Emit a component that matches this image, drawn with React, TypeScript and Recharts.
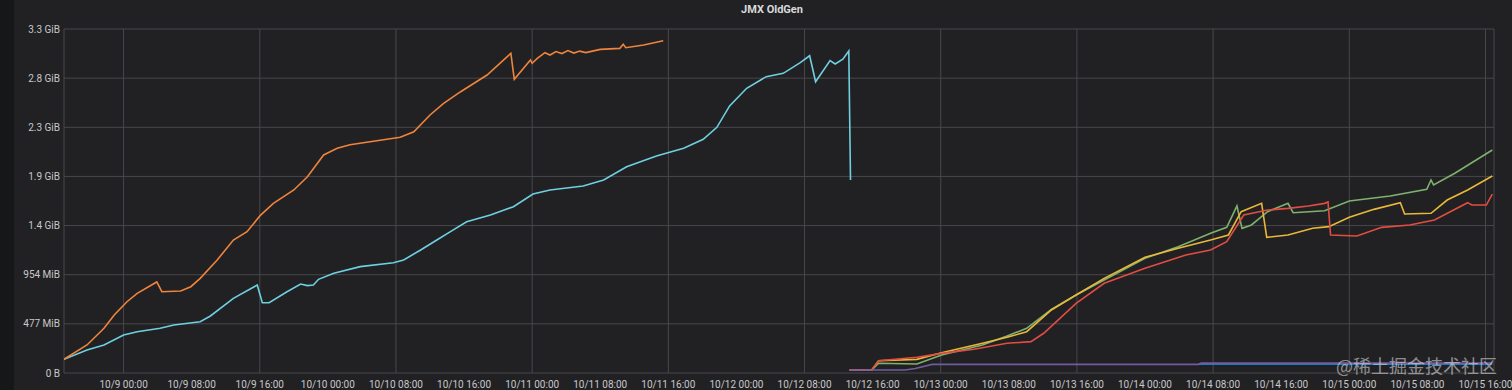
import { LineChart, Line, XAxis, YAxis, CartesianGrid } from "recharts";

// [hours since 10/9 00:00, value in GB (1e9 bytes)]
type Pt = [number, number];

const hourTicks = [0, 8, 16, 24, 32, 40, 48, 56, 64, 72, 80, 88, 96, 104, 112, 120, 128, 136, 144, 152, 160];
const byteTicks = [0, 0.5, 1, 1.5, 2, 2.5, 3, 3.5];

const orange: Pt[] = [
  [-7, 0.14], [-4.3, 0.285], [-2.3, 0.455], [-1.1, 0.59], [0.4, 0.725], [1.6, 0.81], [3.9, 0.926],
  [4.5, 0.827], [6.7, 0.834], [7.9, 0.878], [9, 0.963], [11, 1.15], [12.9, 1.353], [14.5, 1.438],
  [16.1, 1.607], [17.6, 1.726], [20, 1.862], [21.6, 1.997], [23.5, 2.218], [25.1, 2.286], [26.6, 2.323],
  [32.5, 2.398], [34.1, 2.455], [36, 2.625], [37.6, 2.744], [39.6, 2.862], [42.7, 3.032], [45.5, 3.253],
  [45.9, 2.988], [47.8, 3.185], [48, 3.151], [48.6, 3.2], [49.5, 3.259], [50.1, 3.235], [50.8, 3.27],
  [51.5, 3.25], [52.2, 3.28], [52.9, 3.255], [53.6, 3.275], [54.3, 3.26], [56, 3.293], [58.3, 3.303],
  [58.7, 3.344], [59, 3.31], [61.1, 3.337], [63.4, 3.381],
];

const cyan: Pt[] = [
  [-7, 0.14], [-4.3, 0.234], [-2.3, 0.285], [0, 0.387], [1.6, 0.42], [4.3, 0.455], [5.9, 0.488],
  [9, 0.522], [10.2, 0.58], [12.9, 0.76], [15.7, 0.895], [16.3, 0.715], [17.1, 0.715], [19.2, 0.827],
  [20.8, 0.905], [21.6, 0.889], [22.3, 0.895], [22.9, 0.953], [24.7, 1.014], [27.8, 1.082], [31.7, 1.122],
  [32.9, 1.15], [34.9, 1.251], [36.8, 1.353], [38.4, 1.438], [40.3, 1.539], [43.1, 1.607], [45.8, 1.692],
  [48.1, 1.821], [50.1, 1.862], [54, 1.903], [56.4, 1.964], [59.1, 2.099], [62.6, 2.208], [65.8, 2.286],
  [68.1, 2.378], [69.7, 2.5], [71.2, 2.717], [73.2, 2.897], [75.5, 3.015], [77.5, 3.049], [79.5, 3.157],
  [80.6, 3.228], [81.3, 2.964], [83, 3.178], [83.6, 3.144], [84.5, 3.192], [85.2, 3.276], [85.4, 1.964],
];

const green: Pt[] = [
  [85.3, 0.03], [87.9, 0.03], [88.7, 0.099], [93.2, 0.092], [96.1, 0.183], [100.9, 0.285], [103.8, 0.376],
  [106.1, 0.455], [109, 0.648], [111.9, 0.794], [115.2, 0.946], [120, 1.167], [123.9, 1.285], [127.7, 1.421],
  [129.6, 1.482], [130.8, 1.699], [131.4, 1.472], [132.5, 1.506], [134.4, 1.641], [136.8, 1.726],
  [137.4, 1.631], [141.1, 1.651], [144, 1.75], [148.8, 1.801], [153.1, 1.869], [153.6, 1.964],
  [153.9, 1.913], [156.4, 2.032], [160.8, 2.269],
];

const yellow: Pt[] = [
  [85.3, 0.03], [87.9, 0.03], [88.7, 0.125], [93.2, 0.139], [96.1, 0.207], [100.9, 0.302], [103.8, 0.363],
  [106.1, 0.42], [109, 0.641], [111.9, 0.794], [115.2, 0.963], [120, 1.177], [123.9, 1.269], [127.7, 1.353],
  [129.8, 1.404], [131.3, 1.641], [133.7, 1.726], [134.3, 1.38], [136.8, 1.404], [139.7, 1.472],
  [141.6, 1.489], [144, 1.584], [146.9, 1.665], [150, 1.733], [150.5, 1.618], [153.6, 1.625],
  [155.5, 1.76], [157.9, 1.862], [160.8, 2.004],
];

const red: Pt[] = [
  [85.3, 0.03], [87.9, 0.03], [88.7, 0.125], [93.2, 0.16], [96.1, 0.2], [99.9, 0.241], [103.8, 0.302],
  [106.6, 0.319], [108.1, 0.404], [111.9, 0.709], [115.2, 0.913], [120, 1.065], [124.8, 1.201],
  [127.7, 1.251], [129.6, 1.336], [131.6, 1.607], [134.4, 1.658], [136.8, 1.675], [139.2, 1.699],
  [141.1, 1.726], [141.5, 1.74], [141.8, 1.404], [144.9, 1.394], [147.8, 1.482], [151.1, 1.506],
  [154, 1.557], [157.9, 1.733], [158.4, 1.709], [160.1, 1.709], [160.8, 1.821],
];

const blue: Pt[] = [[126.3, 0.09], [160.8, 0.09]];

const purple: Pt[] = [
  [85.3, 0.03], [91.8, 0.03], [93, 0.045], [95, 0.088], [126.3, 0.088], [126.6, 0.1], [160.8, 0.1],
];

const series = [
  { name: "green", pts: green, color: "#7EB26D" },
  { name: "yellow", pts: yellow, color: "#EAB839" },
  { name: "cyan", pts: cyan, color: "#6ED0E0" },
  { name: "orange", pts: orange, color: "#EF843C" },
  { name: "red", pts: red, color: "#E24D42" },
  { name: "blue", pts: blue, color: "#1F78C1" },
  { name: "purple", pts: purple, color: "#705DA0" },
];

const toRows = (pts: Pt[]) => pts.map(([h, v]) => ({ h, v }));

function fmtBytes(v: number) {
  if (v === 0) return "0 B";
  const bytes = v * 1e9;
  const mib = bytes / 1048576;
  if (mib < 1024) return `${Math.round(mib)} MiB`;
  return `${(mib / 1024).toFixed(1)} GiB`;
}

function fmtHour(h: number) {
  const day = 9 + Math.floor(h / 24);
  const hr = String(h % 24).padStart(2, "0");
  return `10/${day} ${hr}:00`;
}

const font = "Roboto, 'Noto Sans', Arial, sans-serif";

export default function App() {
  return (
    <div style={{ position: "fixed", top: 0, left: 0, width: 1512, height: 390, background: "#161719", overflow: "hidden" }}>
      <div style={{ position: "absolute", left: 14, top: 0, width: 1498, height: 390, background: "#212124" }} />
      <div
        style={{
          position: "absolute", top: 3, left: 672, width: 200, textAlign: "center",
          fontFamily: font, fontSize: 11, fontWeight: 700, color: "#d8d9da",
        }}
      >
        JMX OldGen
      </div>
      <div style={{ position: "absolute", top: 0, left: 0 }}>
        <LineChart width={1512} height={390} margin={{ top: 29, right: 18, left: 0, bottom: 0 }}>
          <CartesianGrid stroke="#48484c" strokeWidth={1} />
          <XAxis
            dataKey="h"
            type="number"
            domain={[-7, 161]}
            ticks={hourTicks}
            tickFormatter={fmtHour}
            allowDataOverflow
            axisLine={false}
            tickLine={false}
            height={17}
            tick={{ fontSize: 10, fill: "#c8c8c8", fontFamily: font }}
          />
          <YAxis
            type="number"
            domain={[0, 3.5]}
            ticks={byteTicks}
            tickFormatter={fmtBytes}
            allowDataOverflow
            axisLine={false}
            tickLine={false}
            tickSize={0}
            tickMargin={4}
            width={64}
            tick={{ fontSize: 10, fill: "#c8c8c8", fontFamily: font }}
          />
          {series.map((s) => (
            <Line
              key={s.name}
              data={toRows(s.pts)}
              dataKey="v"
              type="linear"
              stroke={s.color}
              strokeWidth={1.6}
              dot={false}
              isAnimationActive={false}
            />
          ))}
        </LineChart>
      </div>
      <div
        style={{
          position: "absolute", left: 1336, top: 352, fontFamily: "'Noto Sans CJK SC', sans-serif",
          fontSize: 18, color: "rgba(235,235,235,0.55)", whiteSpace: "nowrap",
        }}
      >
        @稀土掘金技术社区
      </div>
    </div>
  );
}
